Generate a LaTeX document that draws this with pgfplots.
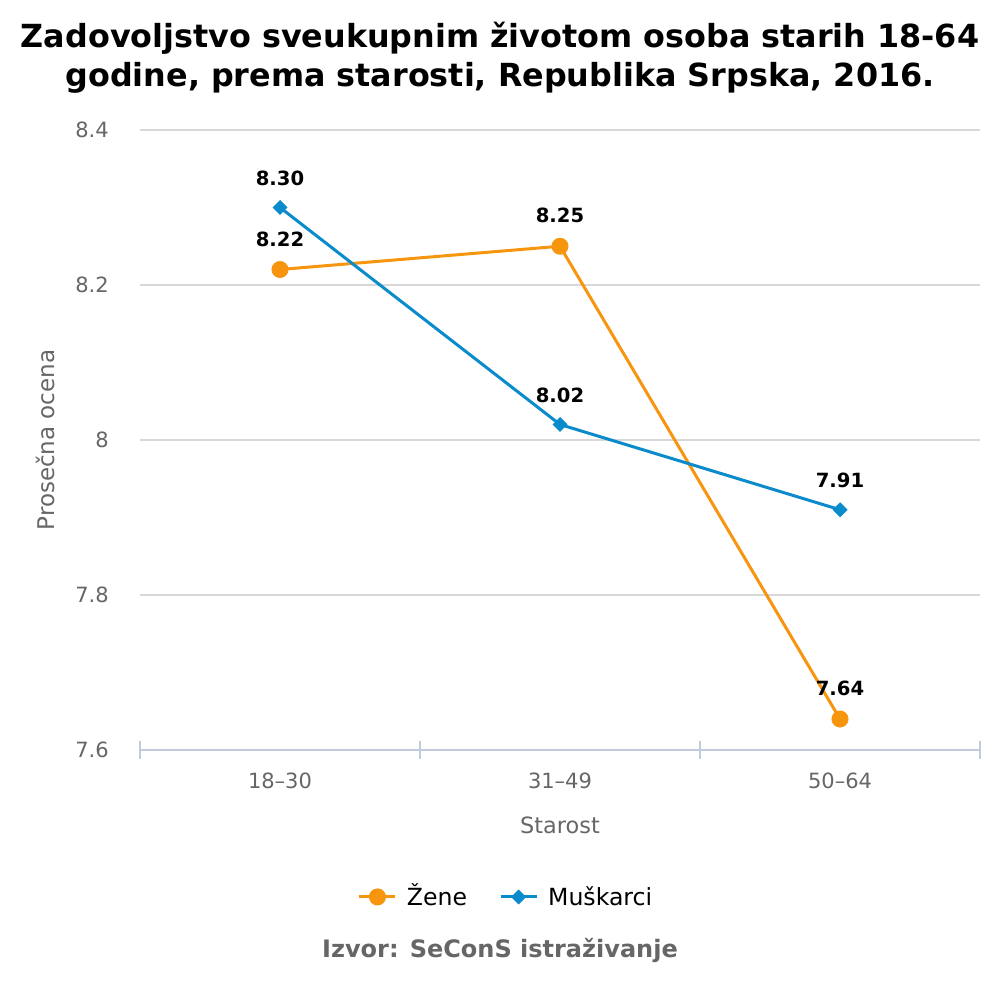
\documentclass[border=0pt]{standalone}
\usepackage{pgfplots}
\pgfplotsset{compat=1.18}
\usepackage{fontspec}
\setmainfont{DejaVu Sans}
\definecolor{zen}{HTML}{F7950F}
\definecolor{mus}{HTML}{0A8BCB}
\definecolor{axisc}{HTML}{C0CCDD}
\definecolor{gridc}{HTML}{D8D8D8}
\definecolor{txtg}{HTML}{666666}
\begin{document}
\begin{tikzpicture}
\path[use as bounding box] (0,0) rectangle (500pt,500pt);
\node[font=\bfseries\fontsize{15.9}{18}\selectfont, align=center] at (250pt,481pt) {Zadovoljstvo sveukupnim životom osoba starih 18-64};
\node[font=\bfseries\fontsize{15.9}{18}\selectfont, align=center] at (250pt,461pt) {godine, prema starosti, Republika Srpska, 2016.};
\begin{axis}[
  at={(70pt,125pt)}, anchor=south west,
  scale only axis, width=420pt, height=310pt,
  clip=false,
  xmin=-0.5, xmax=2.5, ymin=7.6, ymax=8.4,
  xtick={0,1,2}, xticklabels={18–30,31–49,50–64},
  minor xtick={-0.5,0.5,1.5,2.5},
  major x tick style={draw=none},
  minor x tick style={color=axisc, line width=1pt},
  minor tick length=9pt, tick align=outside,
  ytick={7.6,7.8,8,8.2,8.4},
  y tick style={draw=none},
  ymajorgrids, major grid style={color=gridc, line width=0.6pt},
  axis x line=bottom, axis y line=left,
  x axis line style={-, color=axisc, line width=1pt},
  y axis line style={draw=none},
  /pgf/number format/assume math mode=true,
  tick label style={font=\fontsize{10.5}{12}\selectfont, color=txtg},
  y tick label style={xshift=-10pt},
  x tick label style={yshift=-6pt},
  legend style={draw=none, at={(0.437,-0.237)}, anchor=center, legend columns=2,
    font=\fontsize{11.8}{14}\selectfont, nodes={text height=1.9ex, text depth=0.3ex},
    /tikz/every even column/.append style={column sep=14pt}},
  legend image code/.code={\draw[#1] (0pt,0pt) -- (18pt,0pt); \draw[#1, mark repeat=2, mark phase=2] plot coordinates {(0pt,0pt) (9pt,0pt) (18pt,0pt)};},
  nodes near coords={\pgfmathprintnumber[fixed,fixed zerofill,precision=2]{\pgfplotspointmeta}},
  every node near coord/.append style={font=\bfseries\fontsize{9.8}{12}\selectfont, color=black, yshift=7.5pt},
]
\addplot[color=zen, line width=1.5pt, mark=*, mark size=3.5pt, mark options={fill=zen, draw=zen}]
  coordinates {(0,8.22) (1,8.25) (2,7.64)};
\addlegendentry{\hspace{3pt}Žene}
\addplot[color=mus, line width=1.5pt, mark=square*, mark size=2.4pt, mark options={fill=mus, draw=mus, rotate=45, line width=0.5pt}]
  coordinates {(0,8.30) (1,8.02) (2,7.91)};
\addlegendentry{\hspace{3pt}Muškarci}
\end{axis}
\node[font=\fontsize{11.2}{13}\selectfont, color=txtg] at (280pt,87.5pt) {Starost};
\node[font=\fontsize{11.5}{13}\selectfont, color=txtg, rotate=90] at (22.5pt,280pt) {Prosečna ocena};
\node[font=\bfseries\fontsize{12}{14}\selectfont, color=txtg] at (250pt,25pt) {Izvor: SeConS istraživanje};
\end{tikzpicture}
\end{document}
